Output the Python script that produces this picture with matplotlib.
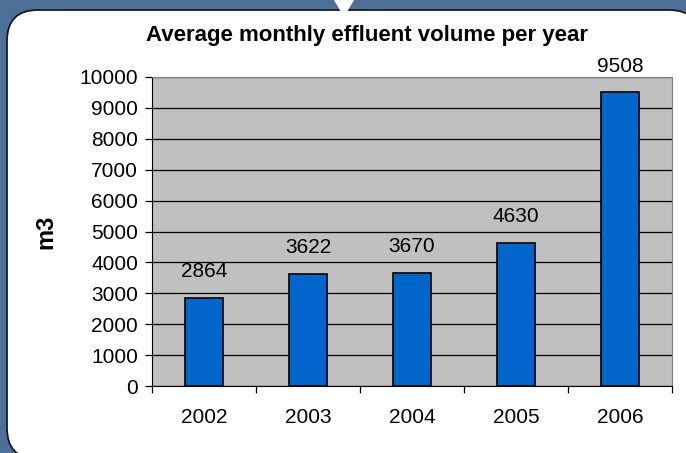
import matplotlib
matplotlib.use("Agg")
import matplotlib.pyplot as plt
from matplotlib.patches import FancyBboxPatch, Polygon

years = ["2002", "2003", "2004", "2005", "2006"]
volumes = [2864, 3622, 3670, 4630, 9508]
yticks = list(range(0, 10001, 1000))

plt.rcParams['font.family'] = ['Liberation Sans', 'DejaVu Sans']

W, H = 686, 453
fig = plt.figure(figsize=(W / 100, H / 100), dpi=100)
fig.patch.set_facecolor("#4e7098")

# white rounded callout box with small pointer at the top
box = FancyBboxPatch((7 / W, -6 / H), 693 / W, 449 / H,
                     boxstyle="round,pad=0,rounding_size=0.045",
                     transform=fig.transFigure, facecolor="white",
                     edgecolor="#1a1a1a", linewidth=1.3, mutation_aspect=W / H,
                     zorder=-2)
fig.patches.append(box)
tri = Polygon([(334 / W, 1.0), (354 / W, 1.0), (344 / W, 1 - 17 / H)],
              closed=True, transform=fig.transFigure, facecolor="white",
              edgecolor="none", zorder=-1)
fig.patches.append(tri)

ax = fig.add_axes([152 / W, 1 - 386 / H, 520 / W, 309 / H])
ax.set_zorder(2)
ax.set_facecolor("#c0c0c0")
x = range(len(years))
bars = ax.bar(x, volumes, width=0.37, color="#0066cc", edgecolor="black",
              linewidth=1.2, zorder=3)
for xi, v in zip(x, volumes):
    ax.annotate(str(v), (xi, v), xytext=(0, 12), textcoords="offset points",
                ha="center", va="bottom", fontsize=15, annotation_clip=False)

ax.set_xlim(-0.5, 4.5)
ax.set_ylim(0, 10000)
ax.set_yticks(yticks)
ax.tick_params(axis="y", labelsize=15, direction="out", length=5, width=0.9,
               pad=5)
ax.set_xticks([i + 0.5 for i in range(-1, 5)], minor=False)
ax.set_xticklabels([])
ax.set_xticks(list(x), minor=True)
ax.set_xticklabels(years, minor=True)
ax.tick_params(axis="x", which="major", direction="out", length=5, width=0.9)
ax.tick_params(axis="x", which="minor", length=0, labelsize=15, pad=16)
ax.grid(axis="y", color="black", linewidth=0.9, zorder=1)
ax.set_axisbelow(True)
ax.spines["top"].set_color("#808080")
ax.spines["right"].set_color("#808080")
ax.spines["left"].set_color("black")
ax.spines["bottom"].set_color("black")
ax.set_ylabel("m3", fontsize=17, fontweight="bold", labelpad=16)
fig.text(367 / W, 1 - 36 / H, "Average monthly effluent volume per year",
         ha="center", va="center", fontsize=16, fontweight="bold")

fig.savefig("out.png", dpi=100, facecolor=fig.get_facecolor())
